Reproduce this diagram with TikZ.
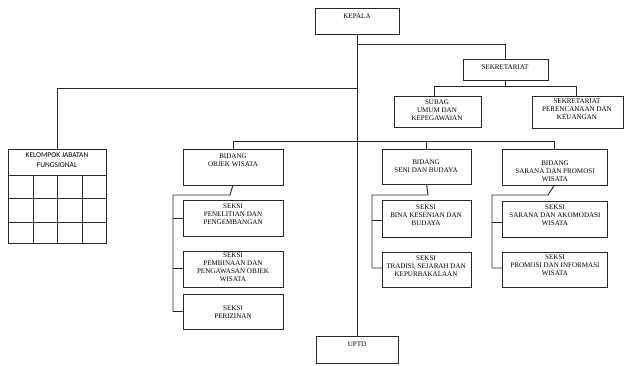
\documentclass[tikz,border=0pt]{standalone}
\usepackage{fontspec}
\setmainfont{Liberation Serif}
\newfontfamily\kfont{Carlito}
\begin{document}
\begin{tikzpicture}[x=0.75pt,y=-0.75pt,
  boxst/.style={draw=black!85,line width=0.7pt,inner sep=0pt,outer sep=0pt,fill=white},
  ln/.style={draw=black!85,line width=0.7pt},
  txt/.style={inner sep=0pt,outer sep=0pt,align=center,anchor=north,
    font=\fontsize{5.3}{6}\selectfont},
  ktxt/.style={inner sep=0pt,outer sep=0pt,align=center,anchor=north,
    font=\kfont\fontsize{5.6}{7.5}\selectfont}]
\newcommand\mkbox[5]{\node[boxst, minimum width={(#4-#2)*0.75pt}, minimum height={(#5-#3)*0.75pt}] (#1) at ({(#2+#4)/2},{(#3+#5)/2}) {};}
\newcommand\mktx[4]{\node[txt] (#1) at (#2,{#3-2.3}) {#4};}
\fill[white] (0,0) rectangle (625,365);
\useasboundingbox (0,0) rectangle (625,365);

% coordinates of junctions
\coordinate (j44) at (357,44);
\coordinate (j88) at (357,88);
\coordinate (j141) at (357,141);
\coordinate (sk1) at (434,86);
\coordinate (sk2) at (576,86);
\coordinate (o1) at (173,195);
\coordinate (o2) at (230,195);
\coordinate (s1) at (372,195);
\coordinate (s2) at (428,195);
\coordinate (r1) at (492,195);
\coordinate (r2) at (548,195);

% boxes
\mkbox{kepala}{315}{8}{399}{34}
\mkbox{sekr}{463}{59}{548}{80}
\mkbox{subag}{394}{96}{481}{127}
\mkbox{renc}{532}{96}{623}{128}
\mkbox{kjf}{8}{149}{106}{243}
\mkbox{bobj}{183}{149}{283}{185}
\mkbox{bseni}{382}{149}{471}{184}
\mkbox{bsar}{502}{149}{607}{185}
\mkbox{spen}{183}{200}{283}{236}
\mkbox{spem}{183}{251}{283}{287}
\mkbox{sper}{183}{294}{283}{329}
\mkbox{sbina}{382}{200}{471}{237}
\mkbox{strad}{382}{252}{471}{287}
\mkbox{ssar}{502}{201}{607}{237}
\mkbox{sprom}{502}{252}{607}{287}
\mkbox{uptd}{316}{336}{398}{363}

% grid of kelompok
\draw[ln] (kjf.west |- 0,175) -- (kjf.east |- 0,175);
\draw[ln] (kjf.west |- 0,198) -- (kjf.east |- 0,198);
\draw[ln] (kjf.west |- 0,222) -- (kjf.east |- 0,222);
\draw[ln] (33,175) -- (kjf.south -| 33,0);
\draw[ln] (57,175) -- (kjf.south -| 57,0);
\draw[ln] (82,175) -- (kjf.south -| 82,0);

% connectors
\draw[ln] (kepala.south) -- (uptd.north);
\draw[ln] (j44) -| (sekr.north);
\draw[ln] (j88) -| (kjf.north);
\draw[ln] (sekr.south) -- (sekr.south |- sk1);
\draw[ln] (sk1) -- (sk2);
\draw[ln] (sk1) -- (sk1 |- subag.north);
\draw[ln] (sk2) -- (sk2 |- renc.north);
\draw[ln] (j141) -| (bobj.north);
\draw[ln] (j141) -| (bsar.north);
\draw[ln] (bseni.north) -- (bseni.north |- j141);
\draw[ln] (bobj.south) -- (o2) -- (o1) |- (sper.west);
\draw[ln] (o1 |- spen.west) -- (spen.west);
\draw[ln] (o1 |- 0,268) -- (spem.west |- 0,268);
\draw[ln] (bseni.south) -- (s2) -- (s1) |- (strad.west |- 0,268);
\draw[ln] (s1 |- 0,220) -- (sbina.west |- 0,220);
\draw[ln] (bsar.south) -- (r2) -- (r1) |- (sprom.west |- 0,268);
\draw[ln] (r1 |- 0,222) -- (ssar.west |- 0,222);

% texts
\mktx{tkep}{357}{16}{KEPALA}
\mktx{tsek}{505}{67}{SEKRETARIAT}
\mktx{tsub}{437}{102}{SUBAG\\UMUM DAN\\KEPEGAWAIAN}
\mktx{tren}{577}{101}{SEKRETARIAT\\PERENCANAAN DAN\\KEUANGAN}
\node[ktxt] (tkjf) at (57,152.5) {KELOMPOK JABATAN\\FUNGSIONAL};
\mktx{tbobj}{233}{156}{BIDANG\\OBJEK WISATA}
\mktx{tbseni}{426}{162}{BIDANG\\SENI DAN BUDAYA}
\mktx{tbsar}{555}{163}{BIDANG\\SARANA DAN PROMOSI\\WISATA}
\mktx{tspen}{233}{206}{SEKSI\\PENELITIAN DAN\\PENGEMBANGAN}
\mktx{tspem}{233}{255}{SEKSI\\PEMBINAAN DAN\\PENGAWASAN OBJEK\\WISATA}
\mktx{tsper}{233}{308}{SEKSI\\PERIZINAN}
\mktx{tsbina}{426}{207}{SEKSI\\BINA KESENIAN DAN\\BUDAYA}
\mktx{tstrad}{426}{258}{SEKSI\\TRADISI, SEJARAH DAN\\KEPURBAKALAAN}
\mktx{tssar}{555}{207}{SEKSI\\SARANA DAN AKOMODASI\\WISATA}
\mktx{tsprom}{555}{257}{SEKSI\\PROMOSI DAN INFORMASI\\WISATA}
\mktx{tuptd}{357}{344}{UPTD}
\end{tikzpicture}
\end{document}
